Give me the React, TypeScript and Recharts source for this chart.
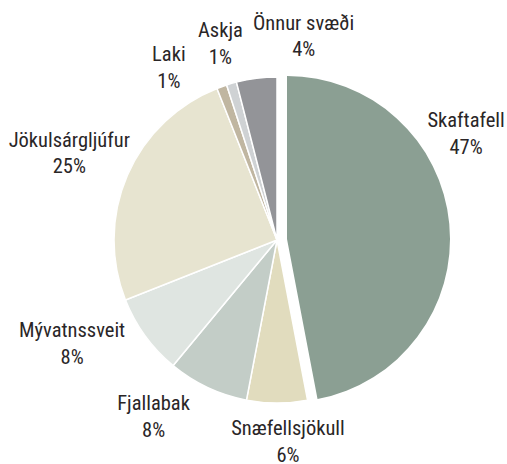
import { PieChart, Pie, Cell } from 'recharts';

const regions = [
  'Skaftafell',
  'Snæfellsjökull',
  'Fjallabak',
  'Mývatnssveit',
  'Jökulsárgljúfur',
  'Laki',
  'Askja',
  'Önnur svæði',
];
const shares = [47, 6, 8, 8, 25, 1, 1, 4];
const colors = ['#8b9f93', '#e1dcbe', '#c3cdc7', '#dfe5e1', '#e7e4d0', '#c0b6a1', '#cfd2d4', '#939498'];

// label nudges from the radial anchor (r = 210), layout only
const labelNudge: [number, number][] = [
  [-20, -93],
  [11, -15],
  [-34, -20],
  [-35, -26],
  [-15, -10],
  [-37, 19],
  [2, -1],
  [53, -2],
];

const data = regions.map((name, i) => ({ name, value: shares[i] }));

const FONT = "'Liberation Sans Narrow', 'Roboto Condensed', Roboto, sans-serif";
const RAD = Math.PI / 180;

function renderLabel(props: any) {
  const { cx, cy, midAngle, index } = props;
  const r = 210;
  const x = cx + r * Math.cos(-midAngle * RAD) + labelNudge[index][0];
  const y = cy + r * Math.sin(-midAngle * RAD) + labelNudge[index][1];
  return (
    <text x={x} y={y} textAnchor="middle" fill="#2a2627" fontSize={20.5} fontFamily={FONT}>
      <tspan x={x} y={y}>{regions[index]}</tspan>
      <tspan x={x} y={y + 26.5}>{shares[index]}%</tspan>
    </text>
  );
}

export default function App() {
  return (
    <div style={{ position: 'absolute', left: 0, top: 0, width: 507, height: 464, background: '#fff' }}>
      <PieChart width={507} height={464} margin={{ top: 0, right: 0, bottom: 0, left: 0 }}>
        <Pie
          data={data}
          dataKey="value"
          nameKey="name"
          cx={277}
          cy={240}
          outerRadius={163}
          startAngle={90}
          endAngle={-270}
          stroke="#fff"
          strokeWidth={1.5}
          label={renderLabel}
          labelLine={false}
          isAnimationActive={false}
        >
          {data.map((d, i) => (
            <Cell key={d.name} fill={i === 0 ? 'none' : colors[i]} stroke={i === 0 ? 'none' : '#fff'} />
          ))}
        </Pie>
        {/* exploded Skaftafell slice */}
        <Pie
          data={data}
          dataKey="value"
          nameKey="name"
          cx={287}
          cy={239}
          outerRadius={163}
          startAngle={90}
          endAngle={-270}
          stroke="none"
          isAnimationActive={false}
        >
          {data.map((d, i) => (
            <Cell key={d.name} fill={i === 0 ? colors[0] : 'none'} />
          ))}
        </Pie>
      </PieChart>
    </div>
  );
}
